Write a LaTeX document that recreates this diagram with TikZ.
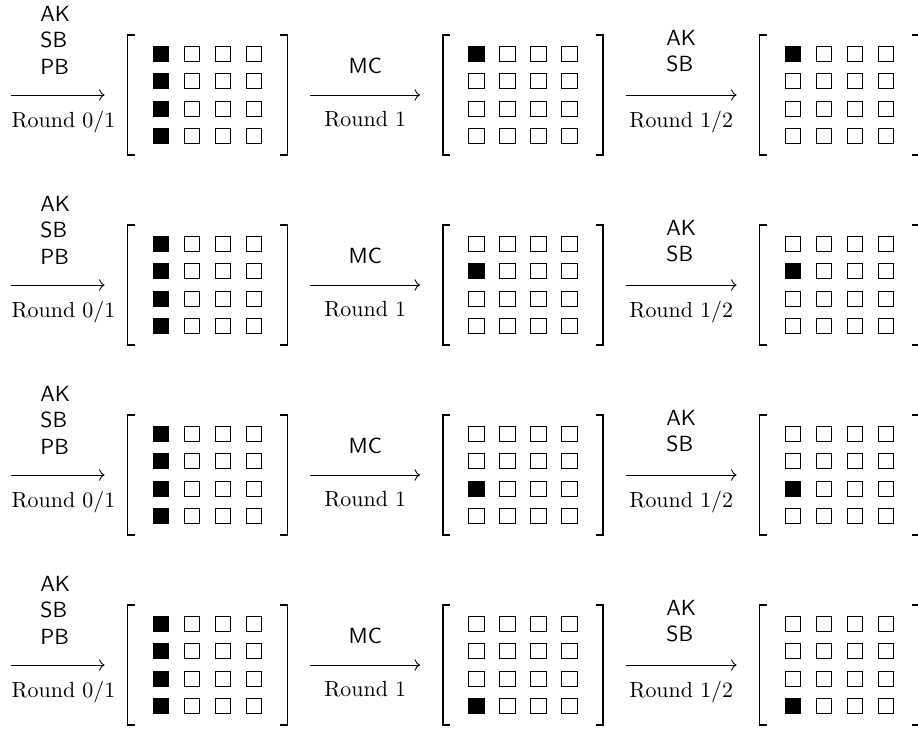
\documentclass[tikz,border=0pt]{standalone}
\usepackage{tikz}
\usetikzlibrary{arrows.meta, calc}

\begin{document}
\begin{tikzpicture}[x=0.4566pt, y=0.4566pt,
    mat/.style={minimum width=72.6pt, minimum height=54.3pt, inner sep=0pt},
    brk/.style={line width=0.6pt},
    cell/.style={draw, line width=0.45pt, minimum width=7pt, minimum height=7pt, inner sep=0pt},
    arr/.style={->, thin, shorten >=10.5pt, shorten <=10.5pt},
    lab/.style={font=\sffamily, align=left}]
  \useasboundingbox (0,0) rectangle (918,728);
  \foreach \r in {1,...,4}{
    \pgfmathsetmacro{\Y}{633-190*(\r-1)}
    \coordinate (s\r) at (11,\Y);
    \node[mat] (m\r1) at (207.5,\Y) {};
    \node[mat] (m\r2) at (523,\Y) {};
    \node[mat] (m\r3) at (839.5,\Y) {};
    % brackets and cells
    \foreach \k in {1,2,3}{
      \draw[brk] ([xshift=3.2pt]m\r\k.north west) -| (m\r\k.south west) -- ++(3.2pt,0pt);
      \draw[brk] ([xshift=-3.2pt]m\r\k.north east) -| (m\r\k.south east) -- ++(-3.2pt,0pt);
      \foreach \i in {1,...,4}{
        \foreach \j in {1,...,4}{
          \pgfmathsetmacro{\dx}{-46.5+31*(\j-1)}
          \pgfmathsetmacro{\dy}{41.1-27.4*(\i-1)}
          \pgfmathtruncatemacro{\on}{(\j==1)*((\k==1)||(\i==\r))}
          \ifnum\on=1 \def\cfill{black}\else\def\cfill{white}\fi
          \node[cell, fill=\cfill] (c\r\k\i\j) at ([shift={(\dx,\dy)}]m\r\k.center) {};
        }
      }
    }
    \draw[arr, shorten <=0pt] (s\r) -- (m\r1)
      node[pos=0.38, above=6pt, lab] {AK\\SB\\PB}
      node[pos=0.45, below=4pt] {Round 0/1};
    \draw[arr] (m\r1) -- (m\r2)
      node[midway, above=6pt, lab] {MC}
      node[midway, below=4pt] {Round 1};
    \draw[arr] (m\r2) -- (m\r3)
      node[midway, above=7pt, lab] {AK\\SB}
      node[midway, below=4pt] {Round 1/2};
  }
\end{tikzpicture}
\end{document}
